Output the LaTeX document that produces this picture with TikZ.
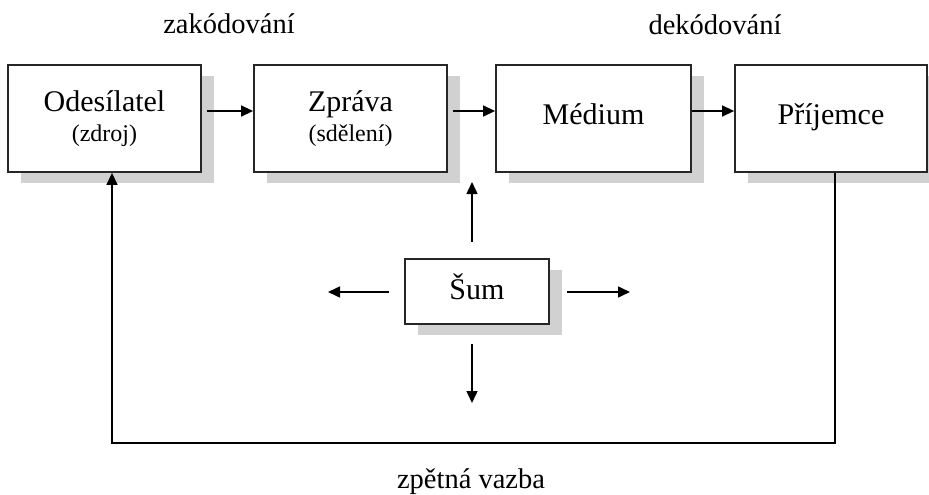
\documentclass[tikz,border=0pt]{standalone}
\usepackage{fontspec}
\setmainfont{Liberation Serif}
\usetikzlibrary{arrows.meta,shadows}

\begin{document}
\begin{tikzpicture}[x=1pt, y=-1pt, line width=1.5pt,
  box/.style={draw=black!85, line width=1.8pt, fill=white, minimum height=107pt, inner sep=0pt, align=center,
    font=\fontsize{30}{30}\selectfont,
    drop shadow={shadow xshift=13pt, shadow yshift=-11pt, fill=black!18, opacity=1}},
  arr/.style={-{Triangle[length=12pt,width=11pt]}},
  lbl/.style={anchor=base, font=\fontsize{28.5}{30}\selectfont}]
  \useasboundingbox (0,0) rectangle (929,495);
  \foreach \n/\x/\w/\txt in {odes/104.5/193/{Odesílatel\\{\fontsize{24}{30}\selectfont(zdroj)}},
      zprava/350.5/193/{Zpráva\\{\fontsize{24}{30}\selectfont(sdělení)}},
      medium/593.5/195/{\strut Médium}, prij/831/192/{\strut Příjemce}} {
    \node[box, minimum width=\w pt] (\n) at (\x,118.5) {\txt};
  }
  \node[box, minimum width=144pt, minimum height=65pt] (sum) at (477,291.5) {\strut Šum};

  \foreach \a/\b/\g in {odes/zprava/5, zprava/medium/5, medium/prij/0}
    \draw[arr] ([shift={(\g,-7.5)}]\a.east) -- ([shift={(0,-7.5)}]\b.west);

  \coordinate (nu) at (472,182);
  \coordinate (nd) at (472,403);
  \coordinate (nl) at (328,292);
  \coordinate (nr) at (630,292);
  \draw[arr] ([shift={(-5,-16)}]sum.north) -- (nu);
  \draw[arr] ([shift={(-5,19)}]sum.south) -- (nd);
  \draw[arr] ([shift={(-15,0.5)}]sum.west) -- (nl);
  \draw[arr] ([shift={(17,0.5)}]sum.east) -- (nr);

  \coordinate (fb) at (470,443);
  \draw[arr] ([xshift=4pt]prij.south) |- (fb) -| ([xshift=7.5pt]odes.south);

  \node[lbl] (zak) at (229,34) {zakódování};
  \node[lbl] (dek) at (715,35) {dekódování};
  \node[lbl] (zv) at (471,488) {zpětná vazba};
\end{tikzpicture}
\end{document}
